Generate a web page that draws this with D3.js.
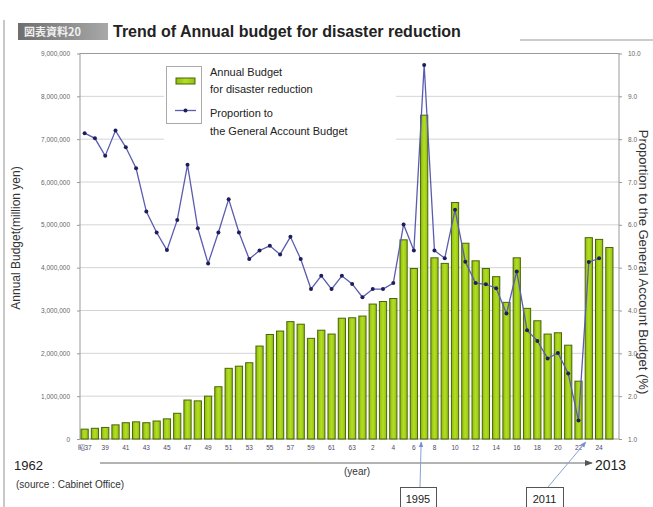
<!DOCTYPE html>
<html>
<head>
<meta charset="utf-8">
<script src="https://cdn.jsdelivr.net/npm/d3@7"></script>
<style>
  body { margin: 0; background: #fff; }
  svg { display: block; font-family: "Liberation Sans", Arial, sans-serif; }
</style>
</head>
<body>
<svg id="chart" width="653" height="507"></svg>
<script>
// Annual budget for disaster reduction, 1962-2013, with share of the general account budget.

const years = d3.range(1962, 2014);

// million yen
const budget = [
  230000, 250000, 270000, 330000, 380000, 400000, 380000, 420000, 470000, 600000,
  910000, 890000, 1000000, 1220000, 1650000, 1700000, 1780000, 2170000, 2440000, 2520000,
  2740000, 2680000, 2350000, 2540000, 2450000, 2820000, 2830000, 2870000, 3150000, 3210000,
  3280000, 4650000, 3980000, 7560000, 4230000, 4100000, 5520000, 4570000, 4160000, 3980000,
  3790000, 3190000, 4230000, 3050000, 2760000, 2450000, 2480000, 2190000, 1350000, 4700000,
  4660000, 4470000
];

// % of general account budget
const proportion = [
  8.14, 8.02, 7.61, 8.20, 7.81, 7.32, 6.31, 5.82, 5.41, 6.11,
  7.40, 5.92, 5.10, 5.82, 6.60, 5.82, 5.20, 5.40, 5.51, 5.31,
  5.72, 5.20, 4.50, 4.81, 4.50, 4.81, 4.62, 4.31, 4.50, 4.50,
  4.64, 6.01, 5.40, 9.73, 5.40, 5.22, 6.35, 5.14, 4.64, 4.61,
  4.52, 3.93, 4.91, 3.54, 3.29, 2.88, 3.01, 2.53, 1.43, 5.13,
  5.22, null
];

const tickYears = d3.range(1962, 2013, 2);
const tickLabels = ["昭37", "39", "41", "43", "45", "47", "49", "51", "53", "55", "57", "59", "61", "63",
  "2", "4", "6", "8", "10", "12", "14", "16", "18", "20", "22", "24"];

const leftTicks = d3.range(0, 9000001, 1000000);
const rightTicks = d3.range(1, 10.01, 1);

const data = years.map((year, i) => ({ year, budget: budget[i], pct: proportion[i] }));

const svg = d3.select("#chart");
const defs = svg.append("defs");

const plot = { left: 80, right: 619, top: 53.5, bottom: 439 };

const x = d3.scaleBand().domain(years).range([80, 614]).paddingInner(0.3).paddingOuter(0.1);
const y = d3.scaleLinear().domain([0, 9000000]).range([plot.bottom, plot.top]);
const y2 = d3.scaleLinear().domain([1, 10]).range([plot.bottom, plot.top]);

// page edge rule
svg.append("line")
  .attr("x1", 4).attr("x2", 4).attr("y1", 20).attr("y2", 507)
  .attr("stroke", "#c8c8c8").attr("stroke-width", 2);

// title badge
const grad = defs.append("linearGradient")
  .attr("id", "badge").attr("x1", 0).attr("x2", 1).attr("y1", 0).attr("y2", 0);
grad.append("stop").attr("offset", "0%").attr("stop-color", "#6e6e6e");
grad.append("stop").attr("offset", "100%").attr("stop-color", "#a8a8a8");

svg.append("rect")
  .attr("x", 18).attr("y", 23).attr("width", 90).attr("height", 17)
  .attr("fill", "url(#badge)");
svg.append("text")
  .attr("x", 24).attr("y", 36)
  .attr("font-family", "Noto Sans CJK JP")
  .attr("font-size", 11).attr("font-weight", "bold")
  .attr("fill", "#f0f0f0")
  .text("図表資料20");

svg.append("text")
  .attr("x", 113).attr("y", 37)
  .attr("font-size", 16).attr("font-weight", "bold")
  .attr("fill", "#222")
  .text("Trend of Annual budget for disaster reduction");

svg.append("line")
  .attr("x1", 520).attr("x2", 653).attr("y1", 40).attr("y2", 40)
  .attr("stroke", "#999").attr("stroke-width", 1);

// gridlines
svg.append("g")
  .selectAll("line")
  .data(leftTicks.slice(1, -1))
  .join("line")
  .attr("x1", plot.left).attr("x2", plot.right)
  .attr("y1", d => y(d)).attr("y2", d => y(d))
  .attr("stroke", "#d4d4d4").attr("stroke-width", 1);

// frame
svg.append("rect")
  .attr("x", plot.left).attr("y", plot.top)
  .attr("width", plot.right - plot.left).attr("height", plot.bottom - plot.top)
  .attr("fill", "none").attr("stroke", "#9a9a9a").attr("stroke-width", 1);

// left axis
const leftAxis = svg.append("g")
  .attr("transform", `translate(${plot.left},0)`)
  .call(d3.axisLeft(y).tickValues(leftTicks).tickFormat(d3.format(",")).tickSize(3).tickPadding(7));
leftAxis.select(".domain").remove();
leftAxis.selectAll(".tick line").attr("stroke", "#999");
leftAxis.selectAll(".tick text").attr("font-size", 6.5).attr("fill", "#666");

// right axis
const rightAxis = svg.append("g")
  .attr("transform", `translate(${plot.right},0)`)
  .call(d3.axisRight(y2).tickValues(rightTicks).tickFormat(d3.format(".1f")).tickSize(3).tickPadding(6));
rightAxis.select(".domain").remove();
rightAxis.selectAll(".tick line").attr("stroke", "#999");
rightAxis.selectAll(".tick text").attr("font-size", 6.5).attr("fill", "#666");

// bars
const barGrad = defs.append("linearGradient")
  .attr("id", "bar").attr("x1", 0).attr("x2", 1).attr("y1", 0).attr("y2", 0);
barGrad.append("stop").attr("offset", "0%").attr("stop-color", "#8cbc0c");
barGrad.append("stop").attr("offset", "50%").attr("stop-color", "#b4de24");
barGrad.append("stop").attr("offset", "100%").attr("stop-color", "#90c010");

svg.append("g")
  .selectAll("rect")
  .data(data)
  .join("rect")
  .attr("x", d => x(d.year))
  .attr("y", d => y(d.budget))
  .attr("width", x.bandwidth())
  .attr("height", d => y(0) - y(d.budget))
  .attr("fill", "url(#bar)")
  .attr("stroke", "#4a640a")
  .attr("stroke-width", 1);

// proportion line
const line = d3.line()
  .defined(d => d.pct != null)
  .x(d => x(d.year) + x.bandwidth() / 2)
  .y(d => y2(d.pct));

svg.append("path")
  .datum(data)
  .attr("fill", "none")
  .attr("stroke", "#5a5cb0")
  .attr("stroke-width", 1.3)
  .attr("d", line);

svg.append("g")
  .selectAll("circle")
  .data(data.filter(d => d.pct != null))
  .join("circle")
  .attr("cx", d => x(d.year) + x.bandwidth() / 2)
  .attr("cy", d => y2(d.pct))
  .attr("r", 2)
  .attr("fill", "#1e1f5a");

// legend
svg.append("rect")
  .attr("x", 164).attr("y", 62).attr("width", 232).attr("height", 78)
  .attr("fill", "#fff");
svg.append("rect")
  .attr("x", 166.5).attr("y", 66.5).attr("width", 35).attr("height", 57)
  .attr("fill", "#fff").attr("stroke", "#aaa").attr("stroke-width", 1);
svg.append("rect")
  .attr("x", 176).attr("y", 78).attr("width", 19).attr("height", 6)
  .attr("fill", "url(#bar)").attr("stroke", "#4a640a").attr("stroke-width", 1);
svg.append("line")
  .attr("x1", 175).attr("x2", 196).attr("y1", 110.5).attr("y2", 110.5)
  .attr("stroke", "#5a5cb0").attr("stroke-width", 1.3);
svg.append("circle")
  .attr("cx", 185.5).attr("cy", 110.5).attr("r", 2).attr("fill", "#1e1f5a");

const legendText = [
  { t: "Annual Budget", y: 76 },
  { t: "for disaster reduction", y: 93 },
  { t: "Proportion to", y: 117 },
  { t: "the General Account Budget", y: 135 }
];
svg.append("g")
  .selectAll("text")
  .data(legendText)
  .join("text")
  .attr("x", 210).attr("y", d => d.y)
  .attr("font-size", 11).attr("fill", "#222")
  .text(d => d.t);

// x tick labels
svg.append("g")
  .selectAll("text")
  .data(tickYears)
  .join("text")
  .attr("x", d => x(d) + x.bandwidth() / 2)
  .attr("y", 450)
  .attr("text-anchor", "middle")
  .attr("font-size", 6.5)
  .attr("fill", "#4a4a6a")
  .text((d, i) => tickLabels[i]);

// axis titles
svg.append("text")
  .attr("transform", "translate(20,238) rotate(-90)")
  .attr("text-anchor", "middle")
  .attr("font-size", 12).attr("fill", "#333")
  .text("Annual Budget(million yen)");

svg.append("text")
  .attr("transform", "translate(639,262) rotate(90)")
  .attr("text-anchor", "middle")
  .attr("font-size", 13).attr("fill", "#333")
  .text("Proportion to the General Account Budget (%)");

// year arrow
defs.append("marker")
  .attr("id", "arrow").attr("viewBox", "0 0 10 10")
  .attr("refX", 9).attr("refY", 5)
  .attr("markerWidth", 8).attr("markerHeight", 8)
  .attr("orient", "auto")
  .append("path").attr("d", "M0,1 L10,5 L0,9 Z").attr("fill", "#555");

svg.append("line")
  .attr("x1", 100).attr("x2", 592).attr("y1", 463).attr("y2", 463)
  .attr("stroke", "#666").attr("stroke-width", 1)
  .attr("marker-end", "url(#arrow)");

svg.append("text").attr("x", 14).attr("y", 470)
  .attr("font-size", 13).attr("fill", "#222").text("1962");
svg.append("text").attr("x", 595).attr("y", 470)
  .attr("font-size", 14).attr("fill", "#222").text("2013");
svg.append("text").attr("x", 344).attr("y", 475)
  .attr("font-size", 10).attr("fill", "#333").text("(year)");
svg.append("text").attr("x", 16).attr("y", 488)
  .attr("font-size", 10).attr("fill", "#333").text("(source : Cabinet Office)");

// event callouts
const callouts = [
  { year: 1995, label: "1995", bx: 400, bw: 36, lx: 420 },
  { year: 2011, label: "2011", bx: 526, bw: 37, lx: 548 }
];

defs.append("marker")
  .attr("id", "arrowBlue").attr("viewBox", "0 0 10 10")
  .attr("refX", 9).attr("refY", 5)
  .attr("markerWidth", 6).attr("markerHeight", 6)
  .attr("orient", "auto")
  .append("path").attr("d", "M0,1 L10,5 L0,9 Z").attr("fill", "#7a8fd0");

callouts.forEach(c => {
  const tx = x(c.year) + x.bandwidth() / 2 - 3;
  svg.append("line")
    .attr("x1", c.lx).attr("y1", 487)
    .attr("x2", tx).attr("y2", 442)
    .attr("stroke", "#8aa0d8").attr("stroke-width", 1)
    .attr("marker-end", "url(#arrowBlue)");
  svg.append("rect")
    .attr("x", c.bx + 0.5).attr("y", 487.5).attr("width", c.bw).attr("height", 22)
    .attr("fill", "#fff").attr("stroke", "#555").attr("stroke-width", 1);
  svg.append("text")
    .attr("x", c.bx + c.bw / 2).attr("y", 503)
    .attr("text-anchor", "middle")
    .attr("font-size", 11).attr("fill", "#222")
    .text(c.label);
});
</script>
</body>
</html>
